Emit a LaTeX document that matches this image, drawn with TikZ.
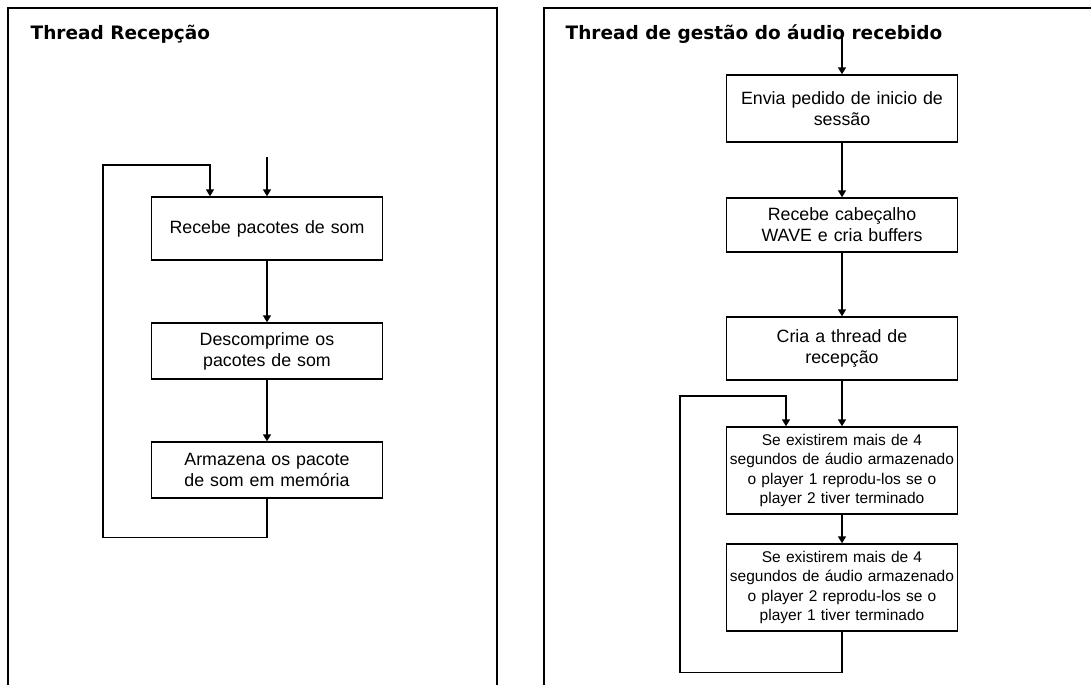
\documentclass[tikz,border=0pt]{standalone}
\usepackage{fontspec}
\setmainfont{Liberation Sans}
\newfontfamily\titlefont{DejaVu Sans}
\usetikzlibrary{arrows.meta}

\begin{document}
\begin{tikzpicture}[x=1pt, y=-1pt, line width=1.4pt,
  passo/.style={draw, rectangle, inner sep=0pt, minimum width=231pt, text width=229pt, align=center, font=\fontsize{17.8}{21}\selectfont},
  passom/.style={passo, font=\fontsize{15.5}{19.5}\selectfont},
  titulo/.style={anchor=base west, inner sep=0pt, font=\titlefont\bfseries\fontsize{18.5}{22}\selectfont},
  seta/.style={-{Triangle[length=7pt, width=8pt]}}]
\useasboundingbox (0,0) rectangle (1091,685);
% molduras
\draw (8,685) -- (8,8) -- (497,8) -- (497,685);
\draw (544,685) -- (544,8) -- (1091,8);
% thread recepcao
\node[titulo] (t1) at (30,40) {Thread Recepção};
\node[passo, minimum height=63pt] (rec) at (267,228.5) {Recebe pacotes de som};
\node[passo, minimum height=56pt] (desc) at (267,351) {Descomprime os\\pacotes de som};
\node[passo, minimum height=56pt] (arm) at (267,470) {Armazena os pacote\\de som em memória};
\coordinate (in1) at (267,157);
\draw [seta] (in1) -- (rec);
\draw [seta] (rec) -- (desc);
\draw [seta] (desc) -- (arm);
\draw [seta] (arm.south) -- ++(0,39) -| (103,165) -| ([xshift=-57pt]rec.north);
% thread de gestao
\node[passo, minimum height=67pt] (env) at (842,108.5) {Envia pedido de inicio de\\sessão};
\coordinate (in2) at (842,33);
\draw [seta] (in2) -- (env);
\node[titulo] (t2) at (565,40) {Thread de gestão do áudio recebido};
\node[passo, minimum height=54pt] (cab) at (842,225) {Recebe cabeçalho\\WAVE e cria buffers};
\node[passo, minimum height=63pt] (cria) at (842,348.5) {Cria a thread de\\recepção};
\node[passom, minimum height=87pt] (p1) at (842,470.5) {Se existirem mais de 4\\segundos de áudio armazenado\\o player 1 reprodu-los se o\\player 2 tiver terminado};
\node[passom, minimum height=87pt] (p2) at (842,587.5) {Se existirem mais de 4\\segundos de áudio armazenado\\o player 2 reprodu-los se o\\player 1 tiver terminado};
\draw [seta] (env) -- (cab);
\draw [seta] (cab) -- (cria);
\draw [seta] (cria) -- (p1);
\draw [seta] (p1) -- (p2);
\draw [seta] (p2.south) -- ++(0,41) -| (680,396) -| ([xshift=-56pt]p1.north);
\end{tikzpicture}
\end{document}
